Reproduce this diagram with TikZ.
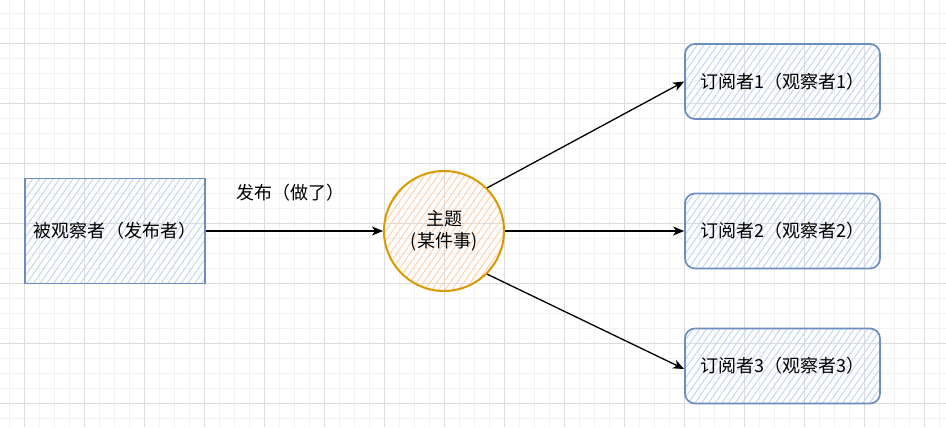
\documentclass[tikz,border=0pt]{standalone}
\usepackage{fontspec}
\setmainfont{Noto Sans CJK SC}
\usetikzlibrary{patterns.meta,arrows.meta}
\definecolor{gridminor}{HTML}{F2F2F2}
\definecolor{gridmajor}{HTML}{DCDCDC}
\definecolor{bluestroke}{HTML}{6C8EBF}
\definecolor{bluehatch}{HTML}{C4D7F4}
\definecolor{orangestroke}{HTML}{D79B00}
\definecolor{orangehatch}{HTML}{FFD2AE}
\tikzset{
  txt/.style={font=\fontsize{18bp}{22bp}\selectfont, text=black, inner sep=0pt},
  bluebox/.style={txt, draw=bluestroke, line width=1.7bp,
    pattern={Lines[angle=55,distance=5.5bp,line width=1bp]}, pattern color=bluehatch},
  subbox/.style={bluebox, rounded corners=10bp, minimum width=195bp, minimum height=75bp},
  topicnode/.style={txt, circle, draw=orangestroke, line width=2bp, minimum size=120bp,
    pattern={Lines[angle=55,distance=5.5bp,line width=1bp]}, pattern color=orangehatch, align=center},
  conn/.style={draw=black, line width=1.3bp, -{Stealth[length=11bp,width=9bp,inset=3bp]}}
}
\begin{document}
\begin{tikzpicture}[x=1bp,y=-1bp]
\useasboundingbox (0,0) rectangle (946,427);
\fill[white] (0,0) rectangle (946,427);
% grid
\foreach \x in {9,24,...,945} \draw[gridminor, line width=0.8bp] (\x,0) -- (\x,427);
\foreach \y in {13,28,...,427} \draw[gridminor, line width=0.8bp] (0,\y) -- (946,\y);
\foreach \x in {24,84,...,945} \draw[gridmajor, line width=0.8bp] (\x,0) -- (\x,427);
\foreach \y in {43,103,...,427} \draw[gridmajor, line width=0.8bp] (0,\y) -- (946,\y);
% nodes
\node[bluebox, minimum width=180bp, minimum height=105bp] (pub) at (115,231) {被观察者（发布者）};
\node[topicnode] (topic) at (444,231) {主题\\(某件事)};
\node[subbox] (s1) at (782.5,81.5) {订阅者1（观察者1）};
\node[subbox] (s2) at (782.5,231) {订阅者2（观察者2）};
\node[subbox] (s3) at (782.5,366) {订阅者3（观察者3）};
\node[txt] (lbl) at (290,193) {发布（做了）};
% connectors
\draw[conn] (pub.east) -- (topic.west);
\draw[conn] (topic.45) -- (s1.west);
\draw[conn] (topic.east) -- (s2.west);
\draw[conn] (topic.-45) -- ([yshift=-3bp]s3.west);
\end{tikzpicture}
\end{document}
